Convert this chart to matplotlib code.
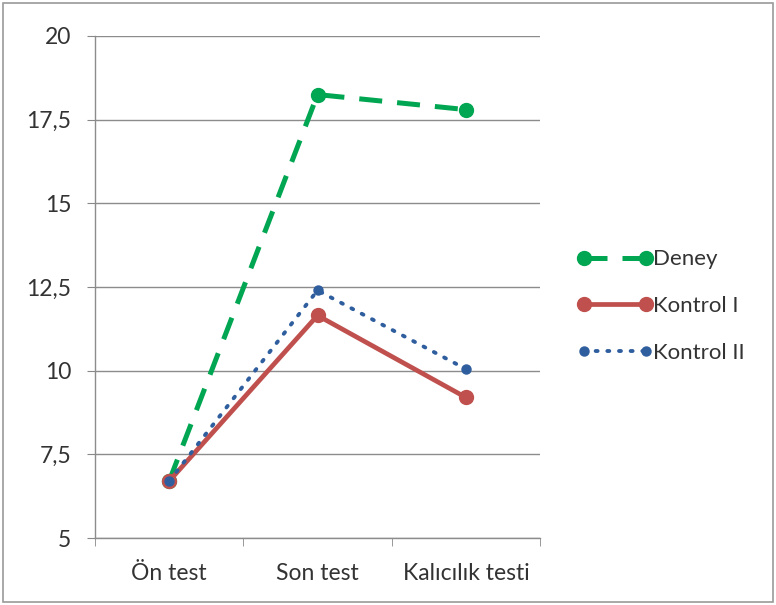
import matplotlib.pyplot as plt
from matplotlib.patches import Rectangle

# data
categories = ['Ön test', 'Son test', 'Kalıcılık testi']
deney = [6.7, 18.25, 17.8]
kontrol_1 = [6.7, 11.65, 9.2]
kontrol_2 = [6.7, 12.4, 10.05]
y_ticks = [5, 7.5, 10, 12.5, 15, 17.5, 20]
y_tick_labels = ['5', '7,5', '10', '12,5', '15', '17,5', '20']

plt.rcParams['font.family'] = ['Lato', 'DejaVu Sans']

fig = plt.figure(figsize=(7.76, 6.05), dpi=100)
ax = fig.add_axes([0.1224, 0.1107, 0.5736, 0.8298])

x = list(range(len(categories)))
ax.plot(x, deney, color='#00A651', lw=3.6, ls=(0, (4.6, 3.0)),
        marker='o', ms=10, label='Deney', zorder=3)
ax.plot(x, kontrol_1, color='#C0504D', lw=3.4, ls='-',
        marker='o', ms=10, label='Kontrol I', zorder=4)
ax.plot(x, kontrol_2, color='#2F5E9E', lw=2.8, ls=(0, (0.5, 2.5)),
        dash_capstyle='round', marker='o', ms=6.5, label='Kontrol II', zorder=5)

ax.set_xlim(-0.5, 2.5)
ax.set_ylim(5, 20)
ax.set_yticks(y_ticks)
ax.set_yticklabels(y_tick_labels)
ax.set_xticks(x)
ax.set_xticklabels(categories)
ax.set_xticks([-0.5, 0.5, 1.5, 2.5], minor=True)
ax.tick_params(axis='x', which='major', length=0, pad=18, labelsize=16.5, colors='#333333')
ax.tick_params(axis='x', which='minor', length=6, color='#888888', direction='out')
ax.tick_params(axis='y', length=6, color='#888888', labelsize=16.5, colors='#333333', pad=11)
ax.yaxis.grid(True, color='#8c8c8c', lw=1)
ax.set_axisbelow(True)
for s in ['top', 'right']:
    ax.spines[s].set_visible(False)
for s in ['left', 'bottom']:
    ax.spines[s].set_color('#8c8c8c')
    ax.spines[s].set_linewidth(1)

leg = ax.legend(loc='center left', bbox_to_anchor=(0.718, 0.494), bbox_transform=fig.transFigure,
                frameon=False, numpoints=2, handlelength=3.4, handletextpad=0.0,
                labelspacing=1.2, fontsize=16)
for t in leg.get_texts():
    t.set_color('#333333')

fig.patches.append(Rectangle((0.004, 0.005), 0.992, 0.99, transform=fig.transFigure,
                             fill=False, edgecolor='#9a9a9a', lw=1.2))

plt.savefig('out.png', dpi=100)
